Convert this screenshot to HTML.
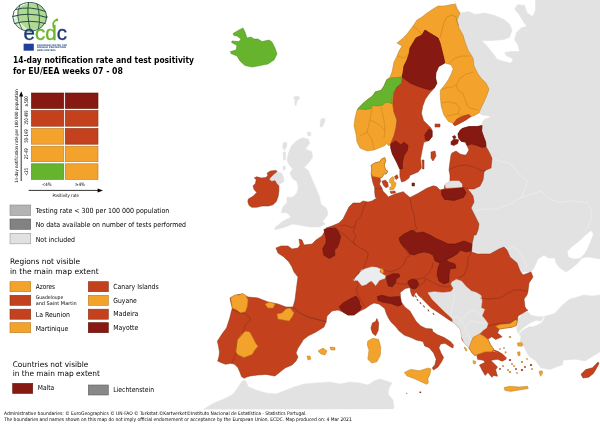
<!DOCTYPE html>
<html><head><meta charset="utf-8"><title>ECDC map</title>
<style>
html,body{margin:0;padding:0;background:#fff;}
body{width:600px;height:424px;overflow:hidden;font-family:"DejaVu Sans","Liberation Sans",sans-serif;}
svg{display:block}
</style></head><body>
<svg width="600" height="424" viewBox="0 0 600 424">
<rect width="600" height="424" fill="#fff"/>
<defs><clipPath id="mapclip"><rect x="0" y="0" width="600" height="409.5"/></clipPath></defs>
<g clip-path="url(#mapclip)">
<polygon points="455,0 600,0 600,259 588,257 582,258 578,263 572,268 566,272 560,268 556,263 555,258 548,258 544,255 538,259 534,268 531,272 520,272 500,260 470,250 470,190 480,150 482,126 482,122 485,119 490,117.5 490,116 482,115 479,113 470,100 460,50 455,10" fill="#E2E2E2" stroke="#E2E2E2" stroke-width="0.5" stroke-linejoin="round"/>
<polygon points="455,0 460,12.5 469,11 475,14 485,12.5 495,15 504,19 510,24 512.5,30 510,37.5 504,40 492.5,41 482.5,41 487.5,46 494,54 497.5,59 504,61 511,62.5 512.5,59 506,56 504,52.5 510,51 519,51 517.5,45 514,40 516,32.5 521,27.5 526,26 522.5,21 519,15 514,9 517.5,4 525,5 527.5,12.5 532.5,16 535,10 535,0" fill="#FFFFFF" stroke="#FFFFFF" stroke-width="0.5" stroke-linejoin="round"/>
<polygon points="591,231 593,234 590,242 587,249 584,254 580,258 574,258.6 569,257 567.6,252 571,248 576,244 581,240 586,235" fill="#FFFFFF" stroke="#FFFFFF" stroke-width="0.5" stroke-linejoin="round"/>
<polygon points="517.3,320.7 523,313 527.7,311.5 530.6,315 535.3,316.2 540,316.8 543.5,316.5 541.2,321 536.5,320.3 531.8,322 527.7,324.4 522,329 518,333.5 516.5,329 517.7,324.4" fill="#E2E2E2" stroke="#E2E2E2" stroke-width="0.5" stroke-linejoin="round"/>
<polygon points="518.8,334.5 522.5,330.5 528.9,326.8 533,326.8 537.7,325 541.8,322.7 543.5,320 544.8,316.2 549.5,315 554.2,313.8 557.7,310.3 561.2,306.2 566,302 570,299 574,298 584,295 592,296 600,295 600,351.7 592.5,356.4 585,361 575.5,359.2 563.2,360.2 562.3,364.9 556.6,366.8 550,369.6 540.6,367.7 535.8,361 529.2,356.4 525.5,350 523.5,346 520,342 521,336" fill="#E2E2E2" stroke="#E2E2E2" stroke-width="0.5" stroke-linejoin="round"/>
<polygon points="203.3,409.5 213.3,403.3 223.3,399.2 232,395 235.2,391.4 239.4,385 242.5,380.8 245.8,380.8 248.3,386.7 256,390 266,393 276,394 284,391 294,387 304,384 316,383 330,382 340,384 350,382 360,383 368,385 374,381 380,379 386,381 392,383 389,388 388,394 393,400 394,407 393,409" fill="#E2E2E2" stroke="#E2E2E2" stroke-width="0.5" stroke-linejoin="round"/>
<polygon points="296.9,140.5 302.6,137.7 308.2,139 309.7,143.3 305.4,149 311.9,151.8 312.5,157.5 308.2,163.2 304,167.4 308.2,170.2 312.5,180.2 316.7,190 319.6,197.2 321,204.2 326.7,208.5 328,214.2 325.2,218.4 322.4,221.2 325.2,224 319.6,226.9 309.7,226.9 301.2,225.5 292.7,224 285.6,226.9 275.7,229.7 274.2,228.3 282.7,221.2 291.2,217 287,212.7 281.3,212.7 282.7,207 287,202.8 287,197.2 292.7,197.2 296.9,192.9 298.3,187.3 296.9,181.6 292.7,178.7 289.8,173 292.7,168.8 289.8,166 287,160.3 288.4,153.2 291.2,146.2" fill="#E2E2E2" stroke="#E2E2E2" stroke-width="0.5" stroke-linejoin="round"/>
<polygon points="283,143 286.5,142 287,146 284.5,150.4 282.7,148" fill="#E2E2E2" stroke="#E2E2E2" stroke-width="0.5" stroke-linejoin="round"/>
<polygon points="283,152 285.5,152 285.6,159 283.5,160.3" fill="#E2E2E2" stroke="#E2E2E2" stroke-width="0.5" stroke-linejoin="round"/>
<polygon points="283,166 285.6,166.5 285,170 283,169.5" fill="#E2E2E2" stroke="#E2E2E2" stroke-width="0.5" stroke-linejoin="round"/>
<polygon points="307,132.5 310.5,132 311,135.5 308,136" fill="#E2E2E2" stroke="#E2E2E2" stroke-width="0.5" stroke-linejoin="round"/>
<polygon points="270.4,177.5 273.7,174.2 276.9,171.7 281.5,173 283.4,176.8 284,181.4 280.2,184 278.9,185.9 276.9,184 275,180.7 271.7,181.4 269.1,179.4" fill="#E2E2E2" stroke="#E2E2E2" stroke-width="0.5" stroke-linejoin="round"/>
<polygon points="293.5,97 298,96 300,98 297,101 296,106 294.5,104 295,100" fill="#E2E2E2" stroke="#E2E2E2" stroke-width="0.5" stroke-linejoin="round"/>
<polygon points="321,119 324.5,118 325,121 322.5,126.5 320,127 320.5,122" fill="#E2E2E2" stroke="#E2E2E2" stroke-width="0.5" stroke-linejoin="round"/>
<polygon points="357,110 359.1,107.4 363.4,103.1 367.6,99.6 372.6,96 375.4,91.8 381,90.4 383.9,86.2 386.7,79.8 390,77 392,72 394,62 397,56 399,51 402,46 397,43 402,39 407,34 413,26 417,20 422,17 427,13 433,9 438,6 444,6 449,5 455,4 457,9 460,13 457,20 459,28 463,35 465,42 468,50 473,58 474,66 478,74 481,78 486,83 489,89 487,95 484,102 481,108 479,113 473.5,116 469,117 464,121 459,124 455.3,124.5 448.3,121.3 443.9,115 441.2,106.2 440.3,97.4 440.3,90.3 444.7,85 448.3,79.7 451,74.4 453.2,69 451,64.7 444.7,63 443.5,57 402,83 397,87 394,93 393,101 393,105 394,112 397,120 396,128 394,136 390.5,144 389,146 386.5,143.5 385,145.5 380,147.5 374,150 367,151 360,148 357,142 356,134 354,126 355,118" fill="#F3A22B" stroke="#B98022" stroke-width="0.5" stroke-linejoin="round"/>
<polygon points="357.5,109.5 359.1,107.4 363.4,103.1 367.6,99.6 372.6,96 375.4,91.8 381,90.4 383.9,86.2 386.7,79.8 391.7,77.7 396,77.7 400.9,77 401.6,83.3 399.5,86.9 394.5,90.4 392.4,95.4 391.7,103.8 388.8,102.4 385.3,102.4 382.5,105.3 378.2,106 373.3,105.3 370.5,108.8 364.8,109.5 359.1,108.8" fill="#66B32E" stroke="#4F8F22" stroke-width="0.5" stroke-linejoin="round"/>
<polygon points="453,124 457,119 463,116 469,114.5 471,116.5 466,120 460,123 455,126" fill="#C3421D" stroke="#8A3216" stroke-width="0.5" stroke-linejoin="round"/>
<polygon points="425,30 428,32 433,35 438,38 440,43 441.5,49 443.5,57 444.7,63 438.6,66.5 435.9,72.7 435.5,78 436.8,83.3 434,88.6 429.7,93 425.3,99.2 422.7,106.2 421.4,113.3 423.5,120.4 427,124 431,128 432.1,130.7 432.1,136.5 428.8,140.7 423.8,142.3 422.2,149.8 420.5,158.8 421.4,168 418,172 409.8,175.4 409,177.9 405,181 401.5,182 399.9,176.2 399.9,169.6 396.6,162 392.4,153.9 390.8,148 390.5,144 394,136 396,128 397,120 394,112 393,105 393,101 394,93 397,87 402,83 402,77 403,73 404,66 407,60 409,54 410,48 413,43 416,38 422,35" fill="#C3421D" stroke="#8A3216" stroke-width="0.5" stroke-linejoin="round"/>
<polygon points="425,30 428,32 433,35 438,38 440,43 441.5,49 443.5,57 444.7,63 438.6,66.5 435.9,72.7 435.5,78 436.8,83.3 434.5,87.5 430,90 423,88 417,86 410,83 406,80 402,77 403,73 404,66 407,60 409,54 410,48 413,43 416,38 422,35" fill="#861A12" stroke="#5E120C" stroke-width="0.5" stroke-linejoin="round"/>
<polygon points="424.7,134.9 428.8,129 432.1,130.7 432.1,136.5 428.8,140.7 425.5,139.8" fill="#861A12" stroke="#5E120C" stroke-width="0.5" stroke-linejoin="round"/>
<polygon points="390.8,144 395.7,140.7 400.7,144.8 404,142.3 408.1,145.6 407.3,150.6 404,155.5 402.4,163 402.4,168.8 399.9,169 396.6,162 392.4,153.9 390.8,148" fill="#861A12" stroke="#5E120C" stroke-width="0.5" stroke-linejoin="round"/>
<polygon points="431,152 435,151 436,156 433,161 431,158" fill="#C3421D" stroke="#8A3216" stroke-width="0.5" stroke-linejoin="round"/>
<polygon points="422,160 424,160 424,169 422.5,169" fill="#C3421D" stroke="#8A3216" stroke-width="0.5" stroke-linejoin="round"/>
<polygon points="435,124 440,124 440,127 435,127" fill="#C3421D" stroke="#8A3216" stroke-width="0.5" stroke-linejoin="round"/>
<polygon points="267.2,173 270.4,171 276.3,170.4 276.9,171.7 273.7,174.2 270.4,177.5 269.1,179.4 271.7,181.4 275,180.7 276.9,184 278.9,185.9 278.9,191 278.2,196.3 276.3,201.5 273,204.7 268.5,206 262,206 256.8,207.3 251.7,207.3 249,205.3 247.8,201.5 248.4,198.9 253,196.3 256.8,192.4 254.2,189.8 253,185.9 255.5,183.3 256.2,179.4 254.2,178 256.8,176.8 261.4,178 265.9,177.5 267.8,175.5" fill="#C3421D" stroke="#8A3216" stroke-width="0.5" stroke-linejoin="round"/>
<polygon points="233,33.6 239,30 243,28 245,32 247,38 251,37 254,39 258,39 262,41.6 269,40 272,42 275,48 277,54 274,60 268,64 260,65.6 252,67 245,65.6 240,61 237,56 231,53.6 230.4,51.6 236,50 237,45.6 231.6,42.4 232,41 239,41.6 241,39 237,36 234,35.6" fill="#66B32E" stroke="#4F8F22" stroke-width="0.5" stroke-linejoin="round"/>
<polygon points="293,307 286,307 278,304 268,302 258,298 248,297 242,294 236,295 230,298 231,303 232.3,308 231,313 229.8,318 226.5,328 221.6,334.6 217.4,341.2 218.5,346 219.5,352 219,356.4 217.7,361.1 221.4,362.7 225.6,364.3 231,363.3 234.6,364.3 237.8,367.5 240,372.3 241.5,376.5 244.2,378.3 246.8,377 250,376 257.5,375 266,374.4 275,376 280,372 285,368 292,365 296,361 298,357 296,353 298,348 302,342 303,340 308,336 316,332 324,327 326,322 324,321 316,319 308,317 300,313" fill="#C3421D" stroke="#8A3216" stroke-width="0.5" stroke-linejoin="round"/>
<polygon points="230.7,297.4 234.8,295 239.8,295 242.2,293.3 245.5,295 248,300 247.2,306.5 245.5,311.4 240.6,313 236.4,309.8 232.3,308 231.5,303" fill="#F3A22B" stroke="#B98022" stroke-width="0.5" stroke-linejoin="round"/>
<polygon points="237.3,339.5 242.2,333.8 245.5,331.3 249.7,332 253,337.9 255.5,342.9 257.9,346.2 254.6,350.3 252.1,354.5 249,355.5 244.2,357.4 238.5,355 235.6,352 236.4,346" fill="#F3A22B" stroke="#B98022" stroke-width="0.5" stroke-linejoin="round"/>
<polygon points="265,304 270,302 275,304 273,308 268,308" fill="#F3A22B" stroke="#B98022" stroke-width="0.5" stroke-linejoin="round"/>
<polygon points="277,314 282,313 286,309 290,308 294,313 292,317 289,321 284,320 278,319" fill="#F3A22B" stroke="#B98022" stroke-width="0.5" stroke-linejoin="round"/>
<polygon points="318,351 323,348 327,351 325,355 321,354" fill="#F3A22B" stroke="#B98022" stroke-width="0.5" stroke-linejoin="round"/>
<polygon points="330,347 335,347.5 335,350 331,350" fill="#F3A22B" stroke="#B98022" stroke-width="0.5" stroke-linejoin="round"/>
<polygon points="307,356 310,356 311,359 308,360" fill="#F3A22B" stroke="#B98022" stroke-width="0.5" stroke-linejoin="round"/>
<polygon points="293,307 295,300 296,292 297,284 298,277 294,272 292,267 289,262 284,257 278,253 276,248 281,246 288,246 292,249 298,248 300,245 299,239 302,240 304,245 312,244 316,240 322,236 325,231 326,228 332,226 339,223 343,219 346,213 349,207 353,203 360,203 363,201 368,202 372,201 377,198 375.3,197.2 374.7,192.5 374.7,187.7 373,183 371.8,177.7 371.2,173.6 371.8,169.5 371.2,165.3 374.7,163 379.5,161.8 381.8,158.8 384.8,157.7 385.7,160.6 384.2,165.3 385.4,169.5 387.7,171.2 386.5,173.6 383.6,174.2 382.4,177 380,178.3 380.6,180.7 379.5,184.2 381.8,187.7 383,191.3 385.4,193.6 388.3,197 391.5,195.5 395,194 403.3,191.7 405.8,194 410,197.5 414,195.5 418.3,193.3 426.7,188.3 433.3,185.8 436.7,186.7 440,190 444.2,189 445,184.5 450,181.7 450,175 449,170 450,162 451,155 452,153 456,151 460,154 464,155 466,155 469,150 467,145.4 465.5,142 461.4,141.4 458.7,138 458,134 460,130.6 462,128.6 469,126.6 477,126.6 482,125.6 481.6,131 483.6,136.7 485.6,142 486,146.7 488,150 492,158 491,168 486,170 484,172 483,180 480,186 474,189 468,189 473,196 474,202 471,208 475,216 479,224 478,230 476,235 474,235 472,244 471.6,252 478,254 490,254 499,249 504,247 507,250 510,257 517,263 520,271 523,275 531,272 533,277 529,283 528,291 527,295 524,299 525,307 527,310 528,310 523,313 518,316 517.3,320.7 516.3,325.4 511.6,327.3 504,328.2 499.3,329 497.5,333 502.2,336.7 495.6,339.5 491.8,336.7 489,338.6 488,339.5 490.8,345.2 493.7,349 492.7,351.8 499.3,352.7 503,355.6 506,359.3 502.2,361.2 497.5,359.3 490.8,360.3 492.7,362.2 497.5,367 495.6,369.7 497.5,376.3 493.7,375.4 491.8,377.3 488,372.5 485.2,375.4 482.4,370.7 479.5,365 485.2,362.2 483.3,360.3 477.6,359.3 476.7,354.6 474.8,355.6 472,352.7 469,348 466,345 462,340 461,332 460.7,329.9 457.2,325.4 452.7,322 448.5,319.5 443.8,316.2 437.5,312 431,307.7 425.8,302.4 421,297.5 418.5,295.5 417.5,294 416.3,292 415,293.6 413.8,296.8 412.2,296 410.6,291.6 410.2,287.6 405.4,288.4 400.2,292.4 400.5,297 401,301.5 404.6,306.7 409.9,311 413,316.2 416.2,321.5 420.5,325.8 425.8,328.4 432.2,329 432.7,331.6 437.5,334.8 444.2,337.6 450.4,341.5 453.4,345 453,348 450.4,346.8 445,343.3 440.6,344 438.9,347.7 441,353 443.6,357.4 441.5,361.8 438,367 433.6,370 432.3,368 435,364.5 436.2,359.2 433.6,353 429.2,347.7 424.7,346 423,341.5 416.2,340 411,337.5 404.6,335.3 399.2,331 395,325.8 391.5,322.5 389,319 386.5,314 384.7,308.6 379,304 374,303 370,305 366,308 360,311 354,315 348,315 343,312 338,310 332,311 327,316 326,322 324,321 316,319 308,317 300,313" fill="#C3421D" stroke="#8A3216" stroke-width="0.5" stroke-linejoin="round"/>
<polygon points="371.2,165.3 374.7,163 379.5,161.8 381.8,158.8 384.8,157.7 385.7,160.6 384.2,165.3 385.4,169.5 387.7,171.2 386.5,173.6 383.6,174.2 382.4,177 380,177.7 376.5,177 373,176.5 371.2,173.6 371.8,169.5" fill="#F3A22B" stroke="#B98022" stroke-width="0.5" stroke-linejoin="round"/>
<polygon points="389.5,179.5 392.4,176.5 394.2,178.3 393.6,181.3 396,183 395.4,186.6 393.6,189.5 390,190 389.5,187.7 391.8,186 391.3,183.6 389.5,182.4" fill="#F3A22B" stroke="#B98022" stroke-width="0.5" stroke-linejoin="round"/>
<polygon points="394.4,176.5 397.1,174.8 398.3,177.7 396,179.5" fill="#C3421D" stroke="#8A3216" stroke-width="0.5" stroke-linejoin="round"/>
<polygon points="381.8,181.3 385.4,180 387.7,182.4 388.3,186.6 386,187.7 383.6,185.4" fill="#C3421D" stroke="#8A3216" stroke-width="0.5" stroke-linejoin="round"/>
<polygon points="390,191.5 395,191 395.5,193 391,193.5" fill="#C3421D" stroke="#8A3216" stroke-width="0.5" stroke-linejoin="round"/>
<polygon points="412,183 414.5,183 414.5,186 412,186" fill="#861A12" stroke="#5E120C" stroke-width="0.5" stroke-linejoin="round"/>
<polygon points="452.4,136.6 454.8,135.5 456.2,137.4 453.9,138.9" fill="#861A12" stroke="#5E120C" stroke-width="0.5" stroke-linejoin="round"/>
<polygon points="451,141.7 453.9,138.9 458.6,139.8 457.7,143.6 453.9,145.5 451,144.6" fill="#861A12" stroke="#5E120C" stroke-width="0.5" stroke-linejoin="round"/>
<polygon points="462,128.6 469,126.6 477,126.6 482,125.6 481.6,131 483.6,136.7 485.6,142 486,146.7 482,147.4 477,145.4 471.5,144 467,145.4 465.5,142 461.4,141.4 458.7,138 458,134 460,130.6" fill="#861A12" stroke="#5E120C" stroke-width="0.5" stroke-linejoin="round"/>
<polygon points="445,184 451,181 459,181 462,184 462,187 446,188" fill="#E2E2E2" stroke="#E2E2E2" stroke-width="0.5" stroke-linejoin="round"/>
<polygon points="441.6,190 463.4,187.8 466.2,192.8 463.4,197.5 454,200.5 444.5,199.4 441.6,194.7" fill="#861A12" stroke="#5E120C" stroke-width="0.5" stroke-linejoin="round"/>
<polygon points="399,238 404,234 412,230 417,233 423,232 430,235 437,239 442,241 448,244 455,244 464,241 472,244 471,251 466,252 460,250 457,254 452,257 446,260 449,262 455,264 456,268 450,269 449,275 449,282 444,284 439,281 437,275 438,268 440,263 435,261 433,255 429,253 424,252 419,253 414,255 410,254 407,250 403,246 400,242" fill="#861A12" stroke="#5E120C" stroke-width="0.5" stroke-linejoin="round"/>
<polygon points="386.4,276.4 392.9,273.8 398.7,273.8 400,276.4 396.1,279 395.5,282.9 392.2,286.8 388.3,286 387,281.6" fill="#861A12" stroke="#5E120C" stroke-width="0.5" stroke-linejoin="round"/>
<polygon points="408.4,281 412.3,279 416.9,280.3 418.8,284.2 416.2,288.2 413.6,289 410.4,287.4 408.4,284.2" fill="#861A12" stroke="#5E120C" stroke-width="0.5" stroke-linejoin="round"/>
<polygon points="377.3,296.5 381.9,295.2 389.6,297.2 399.4,296.5 400.7,299.7 401.5,304.5 398,306.2 391,303.6 383.2,302.3 378,300.4" fill="#861A12" stroke="#5E120C" stroke-width="0.5" stroke-linejoin="round"/>
<polygon points="339,307 343,303 350,299 356,296 359,300 360,305 361.5,306.5 360,310 354,315 348,315 343,312" fill="#861A12" stroke="#5E120C" stroke-width="0.5" stroke-linejoin="round"/>
<polygon points="323.8,229.5 330,228 336,228.4 338.5,232 340.6,236.2 339.5,242 337.3,247.4 334.5,250 335,255.3 329.4,258.6 323.8,255.3 322.7,248.5 326,243 326,238.5 325,234" fill="#861A12" stroke="#5E120C" stroke-width="0.5" stroke-linejoin="round"/>
<polygon points="379.8,269.3 381.9,268.3 383.7,271 383,273.5 380.9,272.5" fill="#F3A22B" stroke="#B98022" stroke-width="0.5" stroke-linejoin="round"/>
<polygon points="353.3,280 355.9,276.8 359.1,273.6 361.2,269.9 366.5,268.3 371.8,266.7 376.6,267.2 380.3,268.8 379.8,272 382.5,274 385.6,275.7 385.1,278.4 381.9,279.4 379.3,280.5 377.7,283 375.6,285.8 373.4,283 371.3,281 368.7,282.6 366,284.7 361.8,285.8 359.6,283 357.5,280.5 354.9,281" fill="#EAECEE" stroke="#B9B9B9" stroke-width="0.3" stroke-linejoin="round"/>
<polygon points="428,292.7 434.2,291.8 443,292.7 451,291.8 453.6,288.3 451,284.7 451.9,282 456.3,279.4 461.6,281.2 466,286.5 471.3,291 476.6,292.7 481,295.4 482,301.5 481,307.7 484.6,309.5 482,315.7 485.5,320 488,323.7 486.4,328 483.3,330 479.5,333.9 473,337.6 471,342.4 469,348 466,345 464.2,343 461.6,337 460.7,329.9 457.2,325.4 452.7,322 452.7,319.2 449.5,316 445,312 441.7,308.8 437.5,304.6 432.2,299.2" fill="#E2E2E2" stroke="#E2E2E2" stroke-width="0.5" stroke-linejoin="round"/>
<polygon points="473,337.6 479.5,333.9 483.3,335.8 488,339.5 490.8,345.2 493.7,349 491.8,351.8 485.2,351.8 479.5,353.7 474.8,355.6 472,352.7 469,348 471,342.4" fill="#F3A22B" stroke="#B98022" stroke-width="0.5" stroke-linejoin="round"/>
<polygon points="495.6,326.3 500.3,324.4 509.7,323.5 515.4,319.7 517.3,320.7 516.3,325.4 511.6,327.3 504,328.2 499.3,329" fill="#F3A22B" stroke="#B98022" stroke-width="0.5" stroke-linejoin="round"/>
<polygon points="504,387.6 509.7,386.3 519.2,387 527.6,386.3 528.2,388.6 519.2,390 510.7,391.4 505,390.5" fill="#F3A22B" stroke="#B98022" stroke-width="0.5" stroke-linejoin="round"/>
<polygon points="517.3,343 521,342.4 523,344 522,346.2 518,346" fill="#F3A22B" stroke="#B98022" stroke-width="0.5" stroke-linejoin="round"/>
<polygon points="517.5,352 520,351.8 520,355.6 518,355.6" fill="#F3A22B" stroke="#B98022" stroke-width="0.5" stroke-linejoin="round"/>
<polygon points="539,371.5 542,370.7 542.7,373 540.5,376.3" fill="#F3A22B" stroke="#B98022" stroke-width="0.5" stroke-linejoin="round"/>
<polygon points="473,360.5 475.8,361.5 475.3,364 473.3,363.5" fill="#F3A22B" stroke="#B98022" stroke-width="0.5" stroke-linejoin="round"/>
<polygon points="464,347 466,348 467,351 465.5,350.5" fill="#F3A22B" stroke="#B98022" stroke-width="0.5" stroke-linejoin="round"/>
<polygon points="581,374.3 585.8,369.6 592.5,367.7 598,362 599,363.6 596.2,368.7 593.4,373.4 588.7,377.2 583,378" fill="#C3421D" stroke="#8A3216" stroke-width="0.5" stroke-linejoin="round"/>
<polygon points="404.4,372.4 410.6,369.4 419.4,370.7 428.3,368 431,368.9 430,374.2 427.9,378.6 428.3,383 426.5,384.3 421.2,381.8 414.1,378.6 407,376" fill="#F3A22B" stroke="#B98022" stroke-width="0.5" stroke-linejoin="round"/>
<polygon points="367.8,341 373,338.2 378.7,339.5 380.8,347.5 380.3,355.3 376.9,361.8 371.7,363 367.8,359.2 369,350 367.3,345" fill="#F3A22B" stroke="#B98022" stroke-width="0.5" stroke-linejoin="round"/>
<polygon points="376.9,318.5 378.7,322.9 378.2,330.6 375.6,335.8 372.5,333.2 370.9,328 372.5,322.9 375.6,321.6" fill="#C3421D" stroke="#8A3216" stroke-width="0.5" stroke-linejoin="round"/>
<polyline points="232.3,309.8 240.6,313 245.5,314 249.7,317.2 250.5,320.5 245.5,324.7 243.9,329.6 242.2,334.6 237.3,339.5 236.4,346 235.6,355 233.5,359 231.5,363.3" fill="none" stroke="#6E2410" stroke-width="0.5" stroke-opacity="0.75" stroke-linejoin="round"/>
<polyline points="293,307 300,313 308,317 316,319 324,321 327,322" fill="none" stroke="#6E2410" stroke-width="0.5" stroke-opacity="0.75" stroke-linejoin="round"/>
<polyline points="332,226 336.7,229 343.3,234 348.3,238.3 352.5,242.5 355.8,245 360.8,248.3 365.8,250.8 368.3,254 366.7,260 364,266 364,269" fill="none" stroke="#6E2410" stroke-width="0.5" stroke-opacity="0.75" stroke-linejoin="round"/>
<polyline points="339.2,225.8 345,225 351.7,227.5 355,225.8" fill="none" stroke="#6E2410" stroke-width="0.5" stroke-opacity="0.75" stroke-linejoin="round"/>
<polyline points="365.8,202.5 363.3,208.3 361.7,215 356.7,220.8 355,225.8 353.3,231.7 355.8,236.7 353.3,241.7 355.8,245" fill="none" stroke="#6E2410" stroke-width="0.5" stroke-opacity="0.75" stroke-linejoin="round"/>
<polyline points="374.7,188.5 382,188.5" fill="none" stroke="#6E2410" stroke-width="0.5" stroke-opacity="0.75" stroke-linejoin="round"/>
<polyline points="410,197.5 411.7,208.3 414.2,215 415,223.3 416.7,229" fill="none" stroke="#6E2410" stroke-width="0.5" stroke-opacity="0.75" stroke-linejoin="round"/>
<polyline points="416.7,229 408.3,233.3 400,238.3 401.7,245 406.7,251.7 410,255.8 406,258 404,264 400,268 396,270 390,272 384,270" fill="none" stroke="#6E2410" stroke-width="0.5" stroke-opacity="0.75" stroke-linejoin="round"/>
<polyline points="364,306 361,300 358,295 356,290 358,285" fill="none" stroke="#6E2410" stroke-width="0.5" stroke-opacity="0.75" stroke-linejoin="round"/>
<polyline points="364,269 358,273 354,279 358,283" fill="none" stroke="#6E2410" stroke-width="0.5" stroke-opacity="0.75" stroke-linejoin="round"/>
<polyline points="385,278 392,282 400,284 407,284 408,281 414,279 420,279 424,277 428,274 432,268 433,262" fill="none" stroke="#6E2410" stroke-width="0.5" stroke-opacity="0.75" stroke-linejoin="round"/>
<polyline points="410,288 416,288 421,285 425,281 425,278 432,282 440,286 448,287 452,285" fill="none" stroke="#6E2410" stroke-width="0.5" stroke-opacity="0.75" stroke-linejoin="round"/>
<polyline points="472,251 468,258 468,265 464,275 458,278" fill="none" stroke="#6E2410" stroke-width="0.5" stroke-opacity="0.75" stroke-linejoin="round"/>
<polyline points="433,256 440,262 448,258 456,254 462,250 470,252" fill="none" stroke="#6E2410" stroke-width="0.5" stroke-opacity="0.75" stroke-linejoin="round"/>
<polyline points="463,187 468,189" fill="none" stroke="#6E2410" stroke-width="0.5" stroke-opacity="0.75" stroke-linejoin="round"/>
<polyline points="450,169 458,166 466,165 474,167 482,171 486,170" fill="none" stroke="#6E2410" stroke-width="0.5" stroke-opacity="0.75" stroke-linejoin="round"/>
<polyline points="480,298 488,299 500,298 508,293 514,290 522,290 528,292" fill="none" stroke="#6E2410" stroke-width="0.5" stroke-opacity="0.75" stroke-linejoin="round"/>
<polyline points="488,326 496,324 502,323 510,323 516,319" fill="none" stroke="#6E2410" stroke-width="0.5" stroke-opacity="0.75" stroke-linejoin="round"/>
<polyline points="440,38 442,30 444,22 447,17 452,15 456,17 457,22 459,26" fill="none" stroke="#A86A14" stroke-width="0.5" stroke-opacity="0.75" stroke-linejoin="round"/>
<polyline points="442,89.5 446.5,87.7 452.7,86.8 456.2,85 458,90.3 462.4,93 465,99.2 467.7,106.2 470,108 478,110" fill="none" stroke="#B87818" stroke-width="0.45" stroke-opacity="0.9" stroke-linejoin="round"/>
<polyline points="442,102.7 449,101.8 456.2,103.6 459.8,108 458,113.3 463.3,116.8" fill="none" stroke="#B87818" stroke-width="0.45" stroke-opacity="0.9" stroke-linejoin="round"/>
<polyline points="446.5,116 452.7,115 458,113.3" fill="none" stroke="#B87818" stroke-width="0.45" stroke-opacity="0.9" stroke-linejoin="round"/>
<polyline points="456.2,85 460,78 466,74 474,72" fill="none" stroke="#B87818" stroke-width="0.45" stroke-opacity="0.9" stroke-linejoin="round"/>
<polyline points="449,63.5 455,58 462,56 470,56" fill="none" stroke="#B87818" stroke-width="0.45" stroke-opacity="0.9" stroke-linejoin="round"/>
<polyline points="372,108 370,120 367,132 360,136" fill="none" stroke="#B87818" stroke-width="0.45" stroke-opacity="0.9" stroke-linejoin="round"/>
<polyline points="381,107 384,120 385,130 384,138" fill="none" stroke="#B87818" stroke-width="0.45" stroke-opacity="0.9" stroke-linejoin="round"/>
<polyline points="370,120 378,124 385,130" fill="none" stroke="#B87818" stroke-width="0.45" stroke-opacity="0.9" stroke-linejoin="round"/>
<polyline points="367,132 372,140 374,150" fill="none" stroke="#B87818" stroke-width="0.45" stroke-opacity="0.9" stroke-linejoin="round"/>
<polyline points="397,56 404,58 409,54" fill="none" stroke="#B87818" stroke-width="0.45" stroke-opacity="0.9" stroke-linejoin="round"/>
<polyline points="413,26 418,30 422,35" fill="none" stroke="#B87818" stroke-width="0.45" stroke-opacity="0.9" stroke-linejoin="round"/>
<polyline points="491.4,156.3 499.6,161.3 509.5,163 519.4,174.5 527.7,181 524.4,191 521,197.6" fill="none" stroke="#F0F0F0" stroke-width="0.6" stroke-opacity="1" stroke-linejoin="round"/>
<polyline points="521,197.6 509.5,204.2 496.3,209 483,209 474.9,210.8" fill="none" stroke="#F0F0F0" stroke-width="0.6" stroke-opacity="1" stroke-linejoin="round"/>
<polyline points="521,197.6 531,194.3 540.9,191 547.5,197.6 559,202.5 572.2,200.9 587,202.5 592,210.8 590.4,222.3 585.4,230.6" fill="none" stroke="#F0F0F0" stroke-width="0.6" stroke-opacity="1" stroke-linejoin="round"/>
<polyline points="507,250 512,247 518,250 524,258 527,266 524,272" fill="none" stroke="#F0F0F0" stroke-width="0.6" stroke-opacity="1" stroke-linejoin="round"/>
<polyline points="453.6,288.3 454.5,298 452.7,305 451,313 452.7,319.2" fill="none" stroke="#F0F0F0" stroke-width="0.5" stroke-opacity="1" stroke-linejoin="round"/>
<polyline points="460.7,320 467,313 473,310.4 478.4,313 482,315.7" fill="none" stroke="#F0F0F0" stroke-width="0.5" stroke-opacity="1" stroke-linejoin="round"/>
<polyline points="460.7,320 464.2,326.3 467.8,333.4 471,340" fill="none" stroke="#F0F0F0" stroke-width="0.5" stroke-opacity="1" stroke-linejoin="round"/>
<polyline points="464.2,326.3 471.3,321 480,322.8 486,322" fill="none" stroke="#F0F0F0" stroke-width="0.5" stroke-opacity="1" stroke-linejoin="round"/>
<polyline points="452.7,319.2 457,316 460.7,320 458,325" fill="none" stroke="#F0F0F0" stroke-width="0.5" stroke-opacity="1" stroke-linejoin="round"/>
<ellipse cx="504" cy="348" rx="0.9" ry="0.7" fill="#B5702A"/>
<ellipse cx="510" cy="360" rx="1.2" ry="0.9" fill="#9C3A1C"/>
<ellipse cx="514" cy="366" rx="0.9" ry="1.1" fill="#C98A28"/>
<ellipse cx="508" cy="370" rx="1.2" ry="0.7" fill="#B5702A"/>
<ellipse cx="516" cy="369" rx="0.9" ry="0.9" fill="#9C3A1C"/>
<ellipse cx="522" cy="362" rx="1.2" ry="1.1" fill="#C98A28"/>
<ellipse cx="527" cy="359" rx="0.9" ry="0.7" fill="#B5702A"/>
<ellipse cx="531" cy="365" rx="1.2" ry="0.9" fill="#9C3A1C"/>
<ellipse cx="532" cy="369" rx="0.9" ry="1.1" fill="#C98A28"/>
<ellipse cx="503" cy="366" rx="1.2" ry="0.7" fill="#B5702A"/>
<ellipse cx="500" cy="369" rx="0.9" ry="0.9" fill="#9C3A1C"/>
<ellipse cx="510" cy="372" rx="1.2" ry="1.1" fill="#C98A28"/>
<ellipse cx="517" cy="373" rx="0.9" ry="0.7" fill="#B5702A"/>
<ellipse cx="522" cy="370" rx="1.2" ry="0.9" fill="#9C3A1C"/>
<ellipse cx="505.6" cy="352.4" rx="0.9" ry="1.1" fill="#C98A28"/>
<ellipse cx="512" cy="364" rx="1.2" ry="0.7" fill="#B5702A"/>
<ellipse cx="525" cy="367" rx="0.9" ry="0.9" fill="#9C3A1C"/>
<ellipse cx="510" cy="337" rx="1.2" ry="1.1" fill="#C98A28"/>
<ellipse cx="500" cy="349" rx="0.9" ry="0.7" fill="#B5702A"/>
<ellipse cx="415.8" cy="296.5" rx="0.6" ry="1.3" fill="#9A3A1A" transform="rotate(-35 415.8 296.5)"/>
<ellipse cx="417.5" cy="300" rx="0.6" ry="1.3" fill="#9A3A1A" transform="rotate(-35 417.5 300)"/>
<ellipse cx="420.5" cy="303.2" rx="0.6" ry="1.3" fill="#9A3A1A" transform="rotate(-35 420.5 303.2)"/>
<ellipse cx="424" cy="306.5" rx="0.6" ry="1.3" fill="#9A3A1A" transform="rotate(-35 424 306.5)"/>
<ellipse cx="428.5" cy="310.5" rx="0.6" ry="1.3" fill="#9A3A1A" transform="rotate(-35 428.5 310.5)"/>
<ellipse cx="433.5" cy="314" rx="0.6" ry="1.3" fill="#9A3A1A" transform="rotate(-35 433.5 314)"/>
<ellipse cx="420.3" cy="392.3" rx="1" ry="0.7" fill="#861A12"/>
<ellipse cx="406.7" cy="393.3" rx="0.7" ry="0.5" fill="#9A5A20"/>
<path d="M494,350.5 L498,352 L502,354.5 L506,358" stroke="#C3421D" stroke-width="1.6" fill="none" stroke-linecap="round"/>
</g>
<g id="logo">
<clipPath id="gl"><ellipse cx="29.8" cy="16.8" rx="17" ry="14.3"/></clipPath>
<g clip-path="url(#gl)">
<path d="M18,9 C24,2 38,1 45,8 L47,22 C44,29 36,31 27,29 C23,26 19,22 17,16 Z" fill="#B2D894"/>
<path d="M13,20 C17,27 24,31 31,31 L27,29 C22,26 18,22 17,16 Z" fill="#DDEFD0"/>
</g>
<g fill="none" stroke="#23503F" stroke-width="1" stroke-linecap="round">
<ellipse cx="29.8" cy="16.8" rx="17" ry="14.3" stroke-width="0.9"/>
<path d="M15.5,9.5 Q30,5.5 45.5,11.5" />
<path d="M12.8,16.5 Q30,11.5 46.8,17.5" stroke-width="1.2"/>
<path d="M14.5,23.5 Q30,19 45.3,23.5"/>
<path d="M28.5,2.5 Q26.5,16 30.5,31"/>
<path d="M20,4.8 Q14.5,16 22,29.3" stroke-width="0.8"/>
<path d="M37,3.8 Q41,16 38.5,29" stroke-width="0.9"/>
</g>
<path d="M53.4,27 C52.6,23.5 53.4,21 56.2,20.2" fill="none" stroke="#6CB52D" stroke-width="1.7" stroke-linecap="round"/>
<circle cx="56.8" cy="19.9" r="1.45" fill="#6CB52D"/>
<rect x="23.6" y="43.7" width="10.2" height="7" fill="#21409A"/>
</g>
<text x="23.6" y="39.6" font-size="20" font-family="'Liberation Sans', sans-serif" textLength="43.4" lengthAdjust="spacingAndGlyphs" stroke-width="0.35"><tspan fill="#1D3C6E" stroke="#1D3C6E">e</tspan><tspan fill="#6CB52D" stroke="#6CB52D">cd</tspan><tspan fill="#1D3C6E" stroke="#1D3C6E">c</tspan></text>
<text x="37" y="45.8" font-size="2.4" font-weight="bold" fill="#2A4A8A" font-family="'DejaVu Sans Condensed', 'DejaVu Sans', 'Liberation Sans', sans-serif" textLength="30" lengthAdjust="spacingAndGlyphs">EUROPEAN CENTRE FOR</text>
<text x="37" y="48.2" font-size="2.4" font-weight="bold" fill="#2A4A8A" font-family="'DejaVu Sans Condensed', 'DejaVu Sans', 'Liberation Sans', sans-serif" textLength="29" lengthAdjust="spacingAndGlyphs">DISEASE PREVENTION</text>
<text x="37" y="50.6" font-size="2.4" font-weight="bold" fill="#2A4A8A" font-family="'DejaVu Sans Condensed', 'DejaVu Sans', 'Liberation Sans', sans-serif" textLength="19" lengthAdjust="spacingAndGlyphs">AND CONTROL</text>
<text x="12.9" y="63.3" font-size="8" font-weight="bold" fill="#000" font-family="'DejaVu Sans', 'DejaVu Sans', 'Liberation Sans', sans-serif" textLength="181.1" lengthAdjust="spacingAndGlyphs">14-day notification rate and test positivity</text>
<text x="12.9" y="73.8" font-size="8" font-weight="bold" fill="#000" font-family="'DejaVu Sans', 'DejaVu Sans', 'Liberation Sans', sans-serif" textLength="110.1" lengthAdjust="spacingAndGlyphs">for EU/EEA weeks 07 - 08</text>
<rect x="31.4" y="93" width="32.4" height="15.5" fill="#861A12" stroke="#5E120C" stroke-width="0.6"/>
<rect x="65.3" y="93" width="32.7" height="15.5" fill="#861A12" stroke="#5E120C" stroke-width="0.6"/>
<rect x="31.4" y="110.4" width="32.4" height="15.8" fill="#C3421D" stroke="#8E2F14" stroke-width="0.6"/>
<rect x="65.3" y="110.4" width="32.7" height="15.8" fill="#C3421D" stroke="#8E2F14" stroke-width="0.6"/>
<rect x="31.4" y="128.4" width="32.4" height="15.8" fill="#F3A22B" stroke="#B87A20" stroke-width="0.6"/>
<rect x="65.3" y="128.4" width="32.7" height="15.8" fill="#C3421D" stroke="#8E2F14" stroke-width="0.6"/>
<rect x="31.4" y="146.2" width="32.4" height="15.5" fill="#F3A22B" stroke="#B87A20" stroke-width="0.6"/>
<rect x="65.3" y="146.2" width="32.7" height="15.5" fill="#F3A22B" stroke="#B87A20" stroke-width="0.6"/>
<rect x="31.4" y="163.8" width="32.4" height="15.6" fill="#66B32E" stroke="#4A8A20" stroke-width="0.6"/>
<rect x="65.3" y="163.8" width="32.7" height="15.6" fill="#F3A22B" stroke="#B87A20" stroke-width="0.6"/>
<path d="M21.2,181 L21.2,95" stroke="#000" stroke-width="0.8" fill="none"/><path d="M21.2,91.2 L19.2,96.5 L23.2,96.5 Z" fill="#000"/>
<path d="M28.6,190.4 L98,190.4" stroke="#000" stroke-width="0.8" fill="none"/><path d="M103,190.4 L97.6,188.4 L97.6,192.4 Z" fill="#000"/>
<text transform="translate(17.6,182.9) rotate(-90)" font-size="4.4" fill="#000" font-family="'DejaVu Sans Condensed', 'DejaVu Sans', 'Liberation Sans', sans-serif" textLength="93.7" lengthAdjust="spacingAndGlyphs">14-day notification rate per 100 000 population</text>
<text transform="translate(28.3,106.7) rotate(-90)" font-size="5" fill="#000" font-family="'DejaVu Sans Condensed', 'DejaVu Sans', 'Liberation Sans', sans-serif" textLength="10.4" lengthAdjust="spacingAndGlyphs">≥500</text>
<text transform="translate(28.3,125) rotate(-90)" font-size="5" fill="#000" font-family="'DejaVu Sans Condensed', 'DejaVu Sans', 'Liberation Sans', sans-serif" textLength="14.5" lengthAdjust="spacingAndGlyphs">150-499</text>
<text transform="translate(28.3,142.8) rotate(-90)" font-size="5" fill="#000" font-family="'DejaVu Sans Condensed', 'DejaVu Sans', 'Liberation Sans', sans-serif" textLength="13.5" lengthAdjust="spacingAndGlyphs">50-149</text>
<text transform="translate(28.3,159.3) rotate(-90)" font-size="5" fill="#000" font-family="'DejaVu Sans Condensed', 'DejaVu Sans', 'Liberation Sans', sans-serif" textLength="11.1" lengthAdjust="spacingAndGlyphs">25-49</text>
<text transform="translate(28.3,175.8) rotate(-90)" font-size="5" fill="#000" font-family="'DejaVu Sans Condensed', 'DejaVu Sans', 'Liberation Sans', sans-serif" textLength="7.8" lengthAdjust="spacingAndGlyphs">&lt;25</text>
<text x="42" y="186.2" font-size="4.6" font-weight="normal" fill="#000" font-family="'DejaVu Sans Condensed', 'DejaVu Sans', 'Liberation Sans', sans-serif" textLength="9.6" lengthAdjust="spacingAndGlyphs">&lt;4%</text>
<text x="75" y="186.2" font-size="4.6" font-weight="normal" fill="#000" font-family="'DejaVu Sans Condensed', 'DejaVu Sans', 'Liberation Sans', sans-serif" textLength="10" lengthAdjust="spacingAndGlyphs">≥4%</text>
<text x="52.4" y="197" font-size="4.6" font-weight="normal" fill="#000" font-family="'DejaVu Sans Condensed', 'DejaVu Sans', 'Liberation Sans', sans-serif" textLength="26.6" lengthAdjust="spacingAndGlyphs">Positivity rate</text>
<rect x="10" y="205" width="20.7" height="10.5" fill="#B4B4B4" stroke="#8A8A8A" stroke-width="0.6"/>
<rect x="10" y="219" width="20.7" height="10.3" fill="#828282" stroke="#5E5E5E" stroke-width="0.6"/>
<rect x="10" y="233.3" width="20.7" height="10.5" fill="#E1E1E1" stroke="#9A9A9A" stroke-width="0.6"/>
<text x="35.7" y="212.8" font-size="7" font-weight="normal" fill="#000" font-family="'DejaVu Sans Condensed', 'DejaVu Sans', 'Liberation Sans', sans-serif" textLength="133.6" lengthAdjust="spacingAndGlyphs">Testing rate &lt; 300 per 100 000 population</text>
<text x="35.7" y="227" font-size="7" font-weight="normal" fill="#000" font-family="'DejaVu Sans Condensed', 'DejaVu Sans', 'Liberation Sans', sans-serif" textLength="150.3" lengthAdjust="spacingAndGlyphs">No data available on number of tests performed</text>
<text x="35.7" y="241.7" font-size="7" font-weight="normal" fill="#000" font-family="'DejaVu Sans Condensed', 'DejaVu Sans', 'Liberation Sans', sans-serif" textLength="39.3" lengthAdjust="spacingAndGlyphs">Not included</text>
<text x="10" y="264" font-size="7.7" font-weight="normal" fill="#000" font-family="'DejaVu Sans', 'DejaVu Sans', 'Liberation Sans', sans-serif" textLength="70" lengthAdjust="spacingAndGlyphs">Regions not visible</text>
<text x="10" y="274.3" font-size="7.7" font-weight="normal" fill="#000" font-family="'DejaVu Sans', 'DejaVu Sans', 'Liberation Sans', sans-serif" textLength="88.7" lengthAdjust="spacingAndGlyphs">in the main map extent</text>
<rect x="10" y="281.7" width="20.7" height="10" fill="#F3A22B" stroke="#B87A20" stroke-width="0.6"/>
<rect x="88.3" y="281.7" width="20" height="10" fill="#C3421D" stroke="#8E2F14" stroke-width="0.6"/>
<rect x="10" y="295.3" width="20.7" height="10" fill="#C3421D" stroke="#8E2F14" stroke-width="0.6"/>
<rect x="88.3" y="295.3" width="20" height="10" fill="#F3A22B" stroke="#B87A20" stroke-width="0.6"/>
<rect x="10" y="309.2" width="20.7" height="10" fill="#C3421D" stroke="#8E2F14" stroke-width="0.6"/>
<rect x="88.3" y="309.2" width="20" height="10" fill="#C3421D" stroke="#8E2F14" stroke-width="0.6"/>
<rect x="10" y="322.7" width="20.7" height="10" fill="#F3A22B" stroke="#B87A20" stroke-width="0.6"/>
<rect x="88.3" y="322.7" width="20" height="10" fill="#861A12" stroke="#5E120C" stroke-width="0.6"/>
<text x="35.7" y="288.8" font-size="7" font-weight="normal" fill="#000" font-family="'DejaVu Sans Condensed', 'DejaVu Sans', 'Liberation Sans', sans-serif" textLength="19.3" lengthAdjust="spacingAndGlyphs">Azores</text>
<text x="35.7" y="298.6" font-size="5" font-weight="normal" fill="#000" font-family="'DejaVu Sans Condensed', 'DejaVu Sans', 'Liberation Sans', sans-serif" textLength="27.6" lengthAdjust="spacingAndGlyphs">Guadeloupe</text>
<text x="35.7" y="305" font-size="5" font-weight="normal" fill="#000" font-family="'DejaVu Sans Condensed', 'DejaVu Sans', 'Liberation Sans', sans-serif" textLength="41" lengthAdjust="spacingAndGlyphs">and Saint Martin</text>
<text x="35.7" y="316.7" font-size="7" font-weight="normal" fill="#000" font-family="'DejaVu Sans Condensed', 'DejaVu Sans', 'Liberation Sans', sans-serif" textLength="34.3" lengthAdjust="spacingAndGlyphs">La Reunion</text>
<text x="35.7" y="330.7" font-size="7" font-weight="normal" fill="#000" font-family="'DejaVu Sans Condensed', 'DejaVu Sans', 'Liberation Sans', sans-serif" textLength="32.6" lengthAdjust="spacingAndGlyphs">Martinique</text>
<text x="113.3" y="289" font-size="7" font-weight="normal" fill="#000" font-family="'DejaVu Sans Condensed', 'DejaVu Sans', 'Liberation Sans', sans-serif" textLength="45.4" lengthAdjust="spacingAndGlyphs">Canary Islands</text>
<text x="113.3" y="302.7" font-size="7" font-weight="normal" fill="#000" font-family="'DejaVu Sans Condensed', 'DejaVu Sans', 'Liberation Sans', sans-serif" textLength="23.4" lengthAdjust="spacingAndGlyphs">Guyane</text>
<text x="113.3" y="316.2" font-size="7" font-weight="normal" fill="#000" font-family="'DejaVu Sans Condensed', 'DejaVu Sans', 'Liberation Sans', sans-serif" textLength="25" lengthAdjust="spacingAndGlyphs">Madeira</text>
<text x="113.3" y="330.2" font-size="7" font-weight="normal" fill="#000" font-family="'DejaVu Sans Condensed', 'DejaVu Sans', 'Liberation Sans', sans-serif" textLength="25" lengthAdjust="spacingAndGlyphs">Mayotte</text>
<text x="12.7" y="366.7" font-size="7.7" font-weight="normal" fill="#000" font-family="'DejaVu Sans', 'DejaVu Sans', 'Liberation Sans', sans-serif" textLength="75.6" lengthAdjust="spacingAndGlyphs">Countries not visible</text>
<text x="12.7" y="376" font-size="7.7" font-weight="normal" fill="#000" font-family="'DejaVu Sans', 'DejaVu Sans', 'Liberation Sans', sans-serif" textLength="87.3" lengthAdjust="spacingAndGlyphs">in the main map extent</text>
<rect x="12.7" y="383.4" width="20" height="10" fill="#861A12" stroke="#5E120C" stroke-width="0.6"/>
<rect x="88.3" y="385" width="20" height="10" fill="#888888" stroke="#5E5E5E" stroke-width="0.6"/>
<text x="37.7" y="389.5" font-size="7" font-weight="normal" fill="#000" font-family="'DejaVu Sans Condensed', 'DejaVu Sans', 'Liberation Sans', sans-serif" textLength="16.6" lengthAdjust="spacingAndGlyphs">Malta</text>
<text x="113.3" y="391.7" font-size="7" font-weight="normal" fill="#000" font-family="'DejaVu Sans Condensed', 'DejaVu Sans', 'Liberation Sans', sans-serif" textLength="40.7" lengthAdjust="spacingAndGlyphs">Liechtenstein</text>
<text x="4" y="415.3" font-size="4.9" font-weight="normal" fill="#000" font-family="'DejaVu Sans Condensed', 'DejaVu Sans', 'Liberation Sans', sans-serif" textLength="302.7" lengthAdjust="spacingAndGlyphs">Administrative boundaries: © EuroGeographics © UN-FAO © Turkstat.©Kartverket©Instituto Nacional de Estatística - Statistics Portugal.</text>
<text x="4" y="421.3" font-size="4.9" font-weight="normal" fill="#000" font-family="'DejaVu Sans Condensed', 'DejaVu Sans', 'Liberation Sans', sans-serif" textLength="347.7" lengthAdjust="spacingAndGlyphs">The boundaries and names shown on this map do not imply official endorsement or acceptance by the European Union. ECDC. Map produced on: 4 Mar 2021</text>
</svg>
</body></html>
